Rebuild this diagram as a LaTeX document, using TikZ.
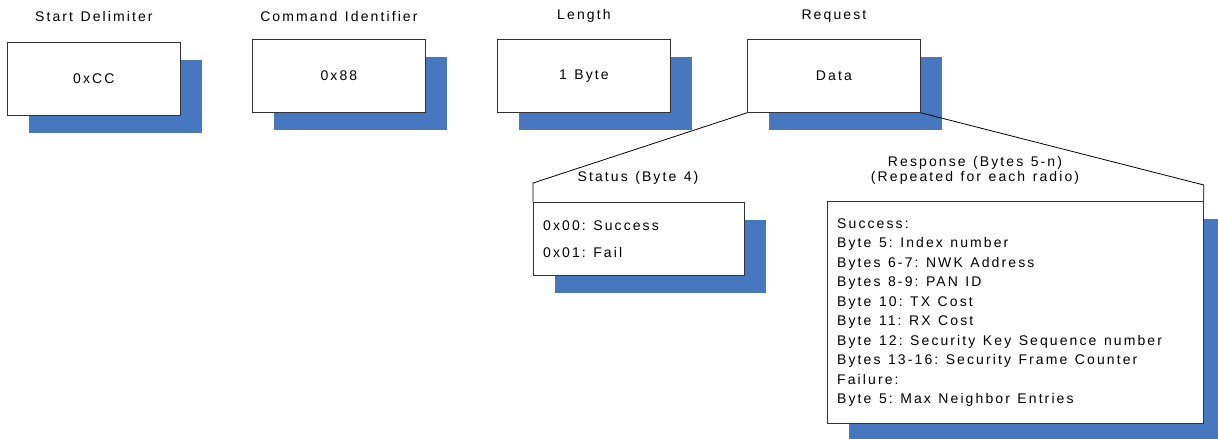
\documentclass[tikz,border=0pt]{standalone}
\usepackage{fontspec}
\setmainfont{Liberation Sans}[LetterSpace=15]
\usetikzlibrary{positioning,shadows}
\definecolor{shadowblue}{RGB}{71,120,191}
\newcommand\diagtext{\fontsize{14}{15}\selectfont\frenchspacing\spaceskip=7.5pt\relax}
\newcommand\statustext{\fontsize{14}{27}\selectfont\frenchspacing\spaceskip=7.5pt\relax}
\newcommand\resptext{\fontsize{14}{19.5}\selectfont\frenchspacing\spaceskip=7.5pt\relax}
\begin{document}
\begin{tikzpicture}[
        x=1pt,y=-1pt,
        every node/.style={font=\diagtext}, % Visio-like spaced text
        field/.style={draw=black!80,line width=0.8pt,fill=white,
            minimum width=173pt,minimum height=73pt,anchor=north west,
            drop shadow={shadow xshift=22pt,shadow yshift=-18pt,fill=shadowblue,opacity=1}},
        title/.style={align=center,inner sep=0pt},
        info/.style={anchor=west,align=left,inner sep=0pt},
        link/.style={draw=black,line width=0.8pt}
    ]
        \useasboundingbox (0,0) rectangle (1218,439);
        % frame fields
        \node[field] (delim) at (7,42) {0xCC};
        \node[field] (cmdid) at (252,39) {0x88};
        \node[field] (len) at (497,39) {1 Byte};
        \node[field] (req) at (747,39) {Data};
        \node[title] at (delim.north |- 0,16) {Start Delimiter};
        \node[title] at (cmdid.north |- 0,16) {Command Identifier};
        \node[title] at (len.north |- 0,16) {Length};
        \node[title] at (req.north |- 0,16) {Request};
        % detail boxes
        \node[field,minimum width=211pt] (status) at (533,202) {};
        \node[field,minimum width=376pt,minimum height=222pt] (resp) at (827,201) {};
        \node[info,font=\statustext,right=10pt of status.west] (statusinfo)
            {0x00: Success\\0x01: Fail};
        \node[info,font=\resptext,right=10pt of resp.west] (respinfo)
            {Success:\\
             Byte 5: Index number\\
             Bytes 6-7: NWK Address\\
             Bytes 8-9: PAN ID\\
             Byte 10: TX Cost\\
             Byte 11: RX Cost\\
             Byte 12: Security Key Sequence number\\
             Bytes 13-16: Security Frame Counter\\
             Failure:\\
             Byte 5: Max Neighbor Entries};
        \node[title] at (638,178) {Status (Byte 4)};
        \node[title] at (975,170) {Response (Bytes 5-n)\\(Repeated for each radio)};
        % callout lines
        \coordinate (sbend) at (status.north west |- 0,183);
        \coordinate (rbend) at (resp.north east |- 0,185);
        \draw[link] (req.south west) -- (sbend) -- (status.north west);
        \draw[link] (req.south east) -- (rbend) -- (resp.north east);
\end{tikzpicture}
\end{document}
